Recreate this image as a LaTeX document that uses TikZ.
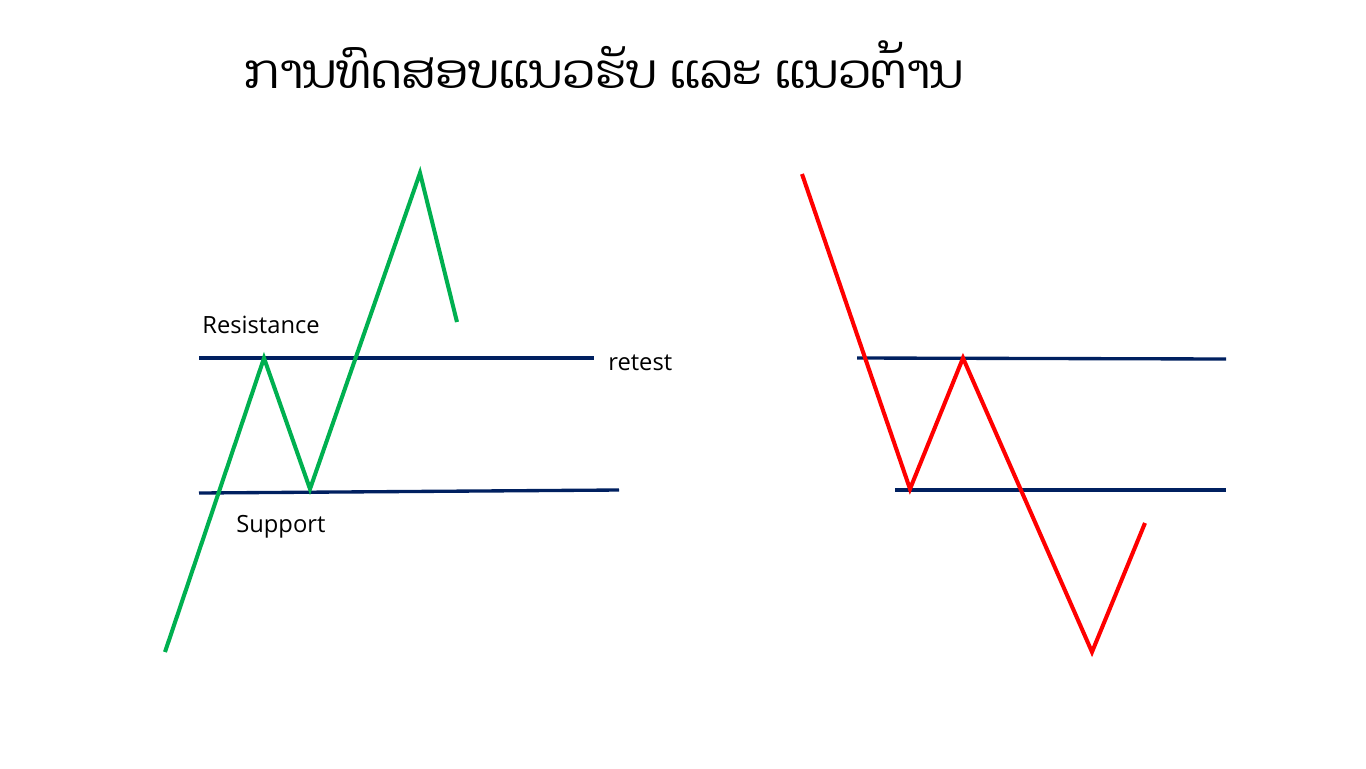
\documentclass[tikz,border=0pt]{standalone}
\usepackage{fontspec}
\setmainfont{Open Sans}
\newfontfamily\laofont[Script=Lao]{Dhyana}
\usepackage{xcolor}
\usepackage{tikz}
\usetikzlibrary{positioning}
\definecolor{upgreen}{RGB}{0,176,80}
\definecolor{downred}{RGB}{255,0,0}
\definecolor{levelblue}{RGB}{0,32,96}

\begin{document}
\begin{tikzpicture}[
  x=0.02cm,y=-0.02cm,
  upline/.style={draw=upgreen,line width=2.3pt,line join=miter},
  downline/.style={draw=downred,line width=2.3pt,line join=miter},
  level/.style={draw=levelblue,line width=1.9pt},
  tag/.style={font=\fontsize{13.5}{16}\selectfont,inner sep=0pt}
]
\useasboundingbox (0,0) rectangle (1366,768);
\node[font=\laofont\fontsize{27}{32}\selectfont] (title) at (604,65)
  {ການທົດສອບແນວຮັບ ແລະ ແນວຕ້ານ};
% left: breakout above resistance, retest
\coordinate (g0) at (165,652);
\coordinate (g1) at (264,358);
\coordinate (g2) at (310,489);
\coordinate (g3) at (420,173);
\coordinate (g4) at (457,322);
\coordinate (resL) at (199,358);
\coordinate (resR) at (594,358);
\coordinate (supL) at (199,493);
\coordinate (supR) at (619,490);
\draw[level] (resL) -- (resR);
\draw[level] (supL) -- (supR);
\draw[upline] (g0) -- (g1) -- (g2) -- (g3) -- (g4);
\node[tag,anchor=base west] (resistance) at (202,333) {Resistance};
\node[tag,anchor=west,right=14 of resR,yshift=-3] (retest) {retest};
\node[tag,anchor=base west] (support) at (236,532) {Support};
% right: breakdown below support, retest
\coordinate (r0) at (802,174);
\coordinate (r1) at (910,489);
\coordinate (r2) at (963,358);
\coordinate (r3) at (1092,652);
\coordinate (r4) at (1145,523);
\coordinate (res2L) at (857,358);
\coordinate (res2R) at (1226,359);
\coordinate (sup2L) at (895,490);
\coordinate (sup2R) at (1226,490);
\draw[level] (res2L) -- (res2R);
\draw[level] (sup2L) -- (sup2R);
\draw[downline] (r0) -- (r1) -- (r2) -- (r3) -- (r4);
\end{tikzpicture}
\end{document}
